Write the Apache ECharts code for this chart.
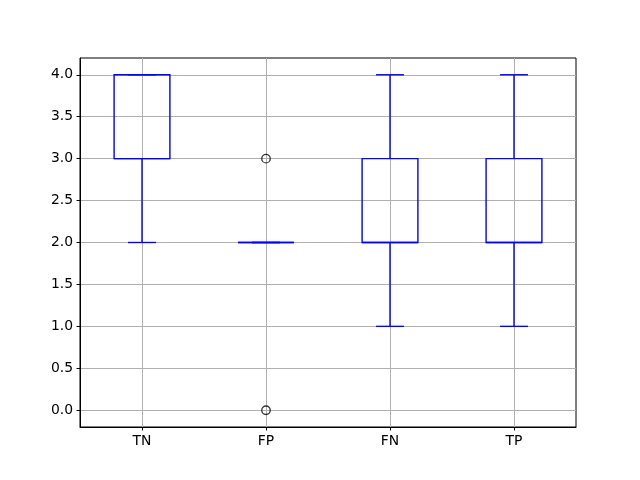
<!DOCTYPE html>
<html>
<head>
<meta charset="utf-8">
<script src="https://cdn.jsdelivr.net/npm/echarts@6/dist/echarts.min.js"></script>
<style>html,body{margin:0;padding:0;background:#fff}#c{width:640px;height:480px}</style>
</head>
<body>
<div id="c"></div>
<script>
const categories = ['TN', 'FP', 'FN', 'TP'];
const whiskerLow = [2, 2, 1, 1];
const q1 = [3, 2, 2, 2];
const medians = [3, 2, 2, 2];
const q3 = [4, 2, 3, 3];
const whiskerHigh = [4, 2, 4, 4];
const outlierCats = ['FP', 'FP'];
const outlierVals = [3, 0];
const yTicks = [0, 0.5, 1, 1.5, 2, 2.5, 3, 3.5, 4];

const boxData = categories.map((c, i) => [i, whiskerLow[i], q1[i], medians[i], q3[i], whiskerHigh[i]]);
const outlierData = outlierCats.map((c, i) => [categories.indexOf(c), outlierVals[i]]);

const BLUE = '#0000ff';
const LW = 1.4;

function renderBox(params, api) {
  const x = api.value(0);
  const band = api.size([1, 0])[0];
  const half = band * 0.45 / 2;
  const capHalf = band * 0.225 / 2;
  const pLo = api.coord([x, api.value(1)]);
  const pQ1 = api.coord([x, api.value(2)]);
  const pMed = api.coord([x, api.value(3)]);
  const pQ3 = api.coord([x, api.value(4)]);
  const pHi = api.coord([x, api.value(5)]);
  const cx = pLo[0];
  const st = { stroke: BLUE, lineWidth: LW, fill: null };
  const line = (x1, y1, x2, y2) => ({ type: 'line', shape: { x1, y1, x2, y2 }, style: st });
  return {
    type: 'group',
    children: [
      line(cx, pLo[1], cx, pQ1[1]),
      line(cx, pQ3[1], cx, pHi[1]),
      line(cx - capHalf, pLo[1], cx + capHalf, pLo[1]),
      line(cx - capHalf, pHi[1], cx + capHalf, pHi[1]),
      { type: 'rect', shape: { x: cx - half, y: pQ3[1], width: 2 * half, height: pQ1[1] - pQ3[1] }, style: { stroke: BLUE, lineWidth: LW, fill: null } },
      line(cx - half, pMed[1], cx + half, pMed[1])
    ]
  };
}

const chart = echarts.init(document.getElementById('c'), null, { renderer: 'canvas' });
const font = { fontFamily: 'DejaVu Sans', fontSize: 13.9, color: '#000' };
chart.setOption({
  animation: false,
  backgroundColor: '#fff',
  grid: { left: 80, right: 64, top: 58, bottom: 53, show: true, borderColor: '#000', borderWidth: 1, backgroundColor: 'transparent' },
  xAxis: {
    type: 'category',
    data: categories,
    axisLine: { show: true, onZero: false, lineStyle: { color: '#000', width: 1 } },
    axisTick: { show: true, alignWithLabel: true, length: 3.5, lineStyle: { color: '#000' } },
    axisLabel: Object.assign({ margin: 7 }, font),
    splitLine: { show: true, alignWithLabel: true, lineStyle: { color: '#b0b0b0', width: 1 } }
  },
  yAxis: {
    type: 'value',
    min: -0.2,
    max: 4.2,
    axisLine: { show: true, onZero: false, lineStyle: { color: '#000', width: 1 } },
    axisTick: { show: true, length: 3.5, customValues: yTicks, lineStyle: { color: '#000' } },
    axisLabel: Object.assign({ margin: 7, customValues: yTicks, formatter: v => v.toFixed(1) }, font),
    splitLine: { show: true, lineStyle: { color: '#b0b0b0', width: 1 } }
  },
  series: [
    {
      type: 'custom',
      renderItem: renderBox,
      data: boxData,
      encode: { x: 0, y: [1, 2, 3, 4, 5] },
      z: 3
    },
    {
      type: 'scatter',
      data: outlierData,
      symbol: 'circle',
      symbolSize: 8.5,
      itemStyle: { color: 'rgba(0,0,0,0)', borderColor: '#000', borderWidth: 1.3 },
      z: 4
    }
  ]
});
</script>
</body>
</html>
